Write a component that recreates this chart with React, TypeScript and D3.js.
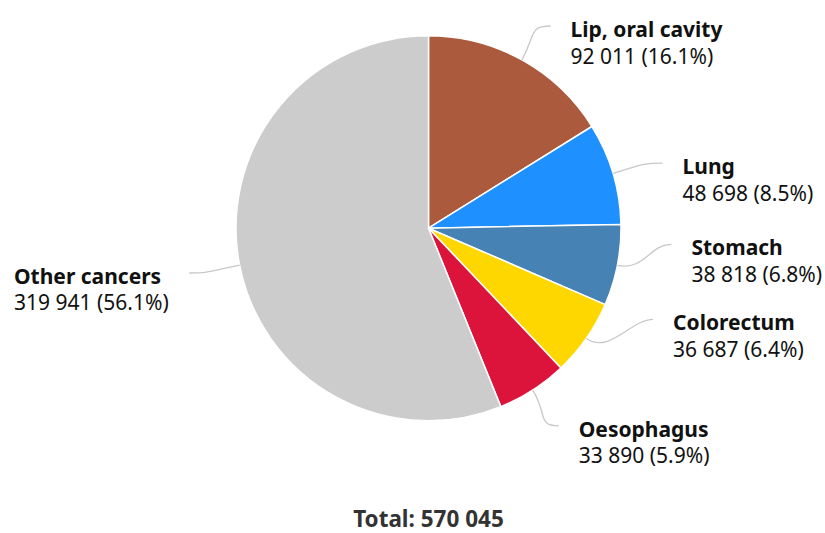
import React from 'react';
import * as d3 from 'd3';

const categories = ['Lip, oral cavity', 'Lung', 'Stomach', 'Colorectum', 'Oesophagus', 'Other cancers'];
const cases = [92011, 48698, 38818, 36687, 33890, 319941];
const percents = ['16.1%', '8.5%', '6.8%', '6.4%', '5.9%', '56.1%'];
const colors = ['#AB5A3E', '#1E90FF', '#4682B4', '#FFD700', '#DC143C', '#CCCCCC'];
const totalLabel = 'Total: 570 045';

// label layout tweaks (pixels), Highcharts-style overlap shifting
const labelShiftY = [-2, 0, -28, -40, 5, 1];

const W = 825;
const H = 533;
const cx = 428.5;
const cy = 228.2;
const radius = 192.5;
const labelRadius = 229;
const labelGap = 14.5;
const labelPad = 20;

const fmt = (n: number) => d3.format(',')(n).replace(/,/g, ' ');

const App = () => {
  const pie = d3.pie<number>().sort(null).value(d => d);
  const arcs = pie(cases);
  const arc = d3.arc<d3.PieArcDatum<number>>().innerRadius(0).outerRadius(radius);

  const labels = arcs.map((a, i) => {
    const mid = (a.startAngle + a.endAngle) / 2;
    const dir = [Math.sin(mid), -Math.cos(mid)];
    const right = dir[0] >= 0;
    const tx = cx + radius * dir[0];
    const ty = cy + radius * dir[1];
    const ey = cy + labelRadius * dir[1] + labelShiftY[i];
    const dy = ey - cy;
    const dx = Math.sqrt(Math.max(0, labelRadius * labelRadius - dy * dy)) + labelGap;
    const ex = right ? cx + dx : cx - dx;
    const sign = right ? 1 : -1;
    const path = d3.path();
    path.moveTo(tx, ty);
    path.bezierCurveTo(tx + dir[0] * 28, ty + dir[1] * 28, ex - sign * 22, ey, ex, ey);
    return { i, right, ex, ey, path: path.toString() };
  });

  return (
    <svg width={W} height={H} style={{ display: 'block', position: 'absolute', left: 0, top: 0 }}
      fontFamily="'Noto Sans', sans-serif">
      <rect width={W} height={H} fill="#ffffff" />
      <g transform={`translate(${cx},${cy})`}>
        {arcs.map((a, i) => (
          <path key={i} d={arc(a) || ''} fill={colors[i]} stroke="#ffffff" strokeWidth={1.5} strokeLinejoin="round" />
        ))}
      </g>
      {labels.map(l => (
        <path key={'c' + l.i} d={l.path} fill="none" stroke="#c8c8c8" strokeWidth={1.3} />
      ))}
      {labels.map(l => {
        const x = l.right ? l.ex + labelPad : 14;
        return (
          <g key={'t' + l.i} fontSize={21} fill="#111111">
            <text x={x} y={l.ey + 11} fontWeight="bold">{categories[l.i]}</text>
            <text x={x} y={l.ey + 37.5}>{`${fmt(cases[l.i])} (${percents[l.i]})`}</text>
          </g>
        );
      })}
      <text x={cx} y={526.5} textAnchor="middle" fontWeight="bold" fontSize={22.5} fill="#333333">{totalLabel}</text>
    </svg>
  );
};

export default App;
